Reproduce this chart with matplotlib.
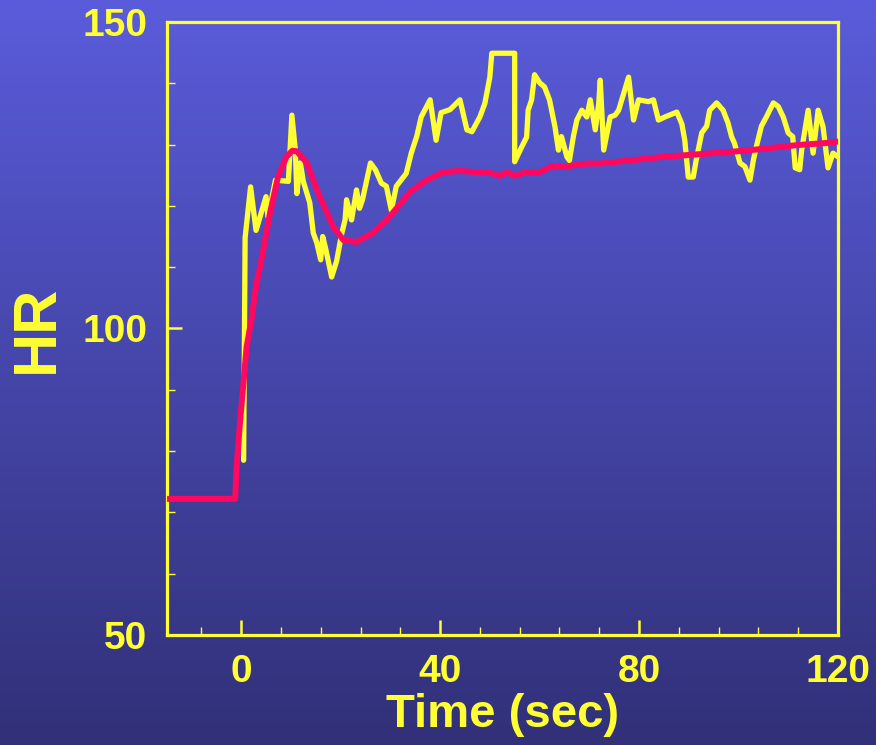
import numpy as np
import matplotlib
matplotlib.use("Agg")
import matplotlib.pyplot as plt
from matplotlib.ticker import MultipleLocator

# Measured heart rate (yellow trace)
hr_time = [0.5, 0.8, 1.9, 3.0, 5.0, 5.4, 6.9, 9.5, 10.2, 10.9, 11.2, 11.9, 12.5,
           13.8, 14.5, 15.2, 16.0, 16.4, 17.0, 18.2, 19.2, 20.2, 20.9, 21.2, 22.2,
           23.2, 23.8, 24.4, 26.0, 27.0, 28.2, 29.2, 30.2, 31.2, 33.2, 34.2, 35.3,
           36.2, 38.0, 39.2, 40.2, 42.0, 44.0, 45.4, 46.4, 48.0, 49.0, 50.0, 50.4,
           55.0, 55.0, 56.4, 57.4, 57.7, 58.4, 59.0, 60.0, 61.0, 62.0, 63.1, 63.8,
           64.4, 65.5, 66.0, 66.8, 67.5, 68.5, 69.5, 70.2, 71.2, 71.9, 72.2, 72.9,
           74.2, 75.2, 75.9, 77.9, 78.9, 79.9, 81.9, 82.9, 83.9, 85.2, 87.6, 88.6,
           89.2, 89.9, 90.9, 91.5, 92.6, 93.6, 94.2, 95.6, 96.9, 97.9, 98.6, 99.2,
           100.3, 101.3, 102.3, 103.0, 103.6, 104.6, 105.6, 107.0, 108.0, 109.0,
           110.0, 110.9, 111.4, 112.3, 112.7, 114.0, 115.0, 116.0, 117.0, 118.0,
           119.0, 120.0]
hr_measured = [78.5, 114.8, 123.1, 116.0, 121.5, 118.2, 124.2, 124.0, 134.8,
               129.1, 122.0, 127.0, 124.0, 120.5, 115.6, 114.0, 111.2, 115.0, 113.0,
               108.4, 111.0, 115.4, 117.7, 121.0, 117.7, 122.6, 119.6, 121.0, 127.0,
               125.9, 123.7, 123.2, 119.3, 123.2, 125.3, 128.6, 131.3, 134.5, 137.3,
               130.7, 135.2, 135.7, 137.3, 132.4, 132.1, 134.5, 136.7, 141.0, 144.9,
               144.9, 127.2, 129.6, 131.2, 135.6, 137.3, 141.4, 140.1, 139.4, 137.3,
               132.9, 129.1, 131.3, 128.0, 127.4, 131.3, 134.0, 135.6, 134.5, 137.3,
               132.4, 136.7, 140.5, 129.1, 134.5, 134.8, 135.6, 141.0, 134.0, 137.3,
               137.0, 137.3, 134.0, 134.5, 135.3, 133.4, 130.7, 124.7, 124.7, 127.5,
               131.9, 133.0, 135.6, 136.8, 135.6, 133.5, 131.3, 130.2, 127.0, 126.4,
               124.2, 127.5, 129.7, 133.0, 134.5, 136.8, 136.2, 134.5, 131.9, 131.3,
               126.2, 125.9, 129.1, 135.6, 128.6, 135.6, 132.9, 126.2, 128.6, 128.0]

# Model heart rate response (red curve)
model_time = [-15, -1.2, -0.9, -0.2, 0.4, 1.1, 2.1, 3.1, 3.8, 5.8, 7.4, 9.1, 10.3,
              11.2, 13.2, 15.8, 18.5, 20.6, 23.2, 26.5, 29.3, 34.0, 37.3, 40.7, 44.0,
              47.4, 50.0, 52.0, 53.5, 55.0, 57.0, 60.0, 62.4, 65.0, 69.5, 72.0, 78.2,
              84.9, 91.6, 98.3, 105.0, 111.6, 118.3, 119.9]
hr_model = [72.2, 72.2, 77.5, 85.0, 90.5, 97.0, 101.6, 107.5, 110.0, 118.8, 124.7,
            128.0, 129.0, 128.9, 127.0, 121.5, 116.6, 114.4, 114.1, 115.6, 117.7,
            122.3, 124.2, 125.5, 125.7, 125.5, 125.4, 124.9, 125.5, 124.9, 125.4,
            125.5, 126.4, 126.4, 126.9, 126.9, 127.4, 128.0, 128.4, 128.8, 129.3,
            129.9, 130.3, 130.5]

x_major = [0, 40, 80, 120]
y_major = [50, 100, 150]

YELLOW = "#ffff33"
RED = "#ff0860"
FONT = ["Liberation Sans", "DejaVu Sans"]

fig = plt.figure(figsize=(8.76, 7.45), dpi=100)

# vertical blue gradient backdrop
bg = fig.add_axes([0, 0, 1, 1])
top = np.array([90, 92, 219]) / 255.0
bottom = np.array([49, 48, 120]) / 255.0
f = np.linspace(0, 1, 256)[:, None]
grad = (top[None, :] * (1 - f) + bottom[None, :] * f)[:, None, :]
bg.imshow(grad, aspect="auto", extent=[0, 1, 0, 1], interpolation="bilinear")
bg.axis("off")

ax = fig.add_axes([0.1901, 0.1477, 0.7665, 0.8228])
ax.set_facecolor("none")

ax.plot(hr_time, hr_measured, color=YELLOW, lw=3.8, solid_joinstyle="round",
        solid_capstyle="round", zorder=2)
ax.plot(model_time, hr_model, color=RED, lw=4.3, solid_joinstyle="round",
        solid_capstyle="round", zorder=3)

ax.set_xlim(-15, 120)
ax.set_ylim(50, 150)
ax.set_xticks(x_major)
ax.set_yticks(y_major)
ax.xaxis.set_minor_locator(MultipleLocator(8))
ax.yaxis.set_minor_locator(MultipleLocator(10))

for s in ax.spines.values():
    s.set_color(YELLOW)
    s.set_linewidth(2.3)

ax.tick_params(which="major", direction="in", length=11, width=1.8, color=YELLOW,
               labelcolor=YELLOW, labelsize=28)
ax.tick_params(which="minor", direction="in", length=6, width=1.0, color=YELLOW)
ax.tick_params(axis="x", which="major", pad=14)
ax.tick_params(axis="y", which="major", pad=14)
for lab in ax.get_xticklabels() + ax.get_yticklabels():
    lab.set_fontfamily(FONT)
    lab.set_fontweight("bold")

ax.set_xlabel("Time (sec)", color=YELLOW, fontsize=34, fontweight="bold",
              family=FONT, labelpad=2)
ax.set_ylabel("HR", color=YELLOW, fontsize=44, fontweight="bold",
              family=FONT, labelpad=12)

fig.savefig("out.png", dpi=100)
